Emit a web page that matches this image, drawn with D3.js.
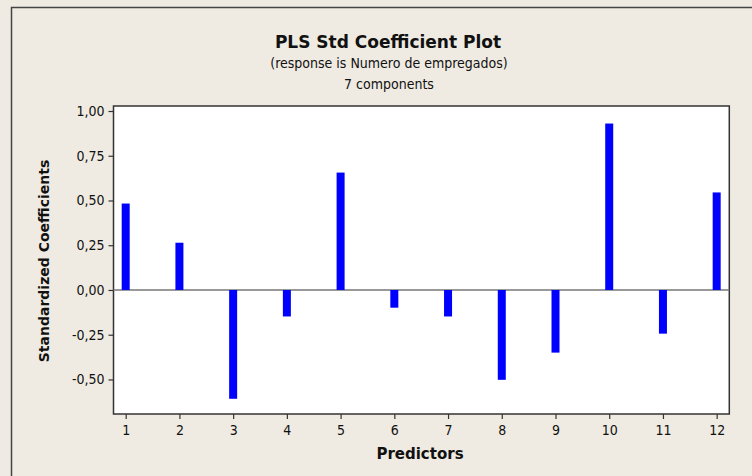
<!DOCTYPE html>
<html>
<head>
<meta charset="utf-8">
<script src="https://cdn.jsdelivr.net/npm/d3@7"></script>
<style>
	body { margin: 0; background: #efebe2; }
	text { font-family: "DejaVu Sans Condensed", "DejaVu Sans", Verdana, sans-serif; fill: #111; }
	.bold-title { font-family: "DejaVu Sans", Verdana, sans-serif; }
</style>
</head>
<body>
<div id="chart"></div>
<script>
// Data
var predictors = [1, 2, 3, 4, 5, 6, 7, 8, 9, 10, 11, 12];
var coefficients = [0.483, 0.264, -0.608, -0.148, 0.656, -0.099, -0.148, -0.502, -0.35, 0.93, -0.244, 0.545];
var yTicks = [-0.5, -0.25, 0, 0.25, 0.5, 0.75, 1];
var titleText = "PLS Std Coefficient Plot";
var subtitleLines = ["(response is Numero de empregados)", "7 components"];

var width = 752,
	height = 476;
var marginTop = 106,
	marginBottom = 62,
	marginLeft = 113.5,
	marginRight = 22.7;

var svg = d3.select("#chart").append("svg").attr("width", width).attr("height", height);

// Background and outer frame
svg.append("rect").attr("width", width).attr("height", height).attr("fill", "#efebe2");
svg
	.append("rect")
	.attr("x", 11.5)
	.attr("y", 7.5)
	.attr("width", width + 10)
	.attr("height", height + 10)
	.attr("fill", "none")
	.attr("stroke", "#444")
	.attr("stroke-width", 1.5);

var ptBR = d3.formatLocale({ decimal: ",", thousands: ".", grouping: [3], currency: ["", ""], minus: "-" });
var fmt = ptBR.format(".2f");

var x = d3
	.scaleLinear()
	.domain([0.773, 12.235])
	.range([marginLeft, width - marginRight]);
var y = d3
	.scaleLinear()
	.domain([-0.693, 1.028])
	.range([height - marginBottom, marginTop]);

// Plot area
svg
	.append("rect")
	.attr("x", marginLeft)
	.attr("y", marginTop)
	.attr("width", width - marginRight - marginLeft)
	.attr("height", height - marginBottom - marginTop)
	.attr("fill", "#fff")
	.attr("stroke", "#333")
	.attr("stroke-width", 1.5);

// Zero reference line
svg
	.append("line")
	.attr("x1", marginLeft)
	.attr("x2", width - marginRight)
	.attr("y1", y(0))
	.attr("y2", y(0))
	.attr("stroke", "#777")
	.attr("stroke-width", 1.5);

// Bars
svg
	.selectAll(".bar")
	.data(predictors)
	.enter()
	.append("rect")
	.attr("class", "bar")
	.attr("x", function (d) {
		return x(d) - 4;
	})
	.attr("width", 8)
	.attr("y", function (d, i) {
		return y(Math.max(0, coefficients[i]));
	})
	.attr("height", function (d, i) {
		return Math.abs(y(coefficients[i]) - y(0));
	})
	.attr("fill", "#0000ff");

// Axes
var yAxis = svg
	.append("g")
	.attr("transform", `translate(${marginLeft}, 0)`)
	.call(d3.axisLeft(y).tickValues(yTicks).tickFormat(fmt).tickSize(5).tickPadding(4));
yAxis.select(".domain").remove();
yAxis.selectAll("line").attr("stroke", "#333").attr("stroke-width", 1.2);
yAxis.selectAll("text").style("font-size", "14px").attr("fill", "#111");

var xAxis = svg
	.append("g")
	.attr("transform", `translate(0, ${height - marginBottom})`)
	.call(d3.axisBottom(x).tickValues(predictors).tickFormat(d3.format("d")).tickSize(5).tickPadding(6));
xAxis.select(".domain").remove();
xAxis.selectAll("line").attr("stroke", "#333").attr("stroke-width", 1.2);
xAxis.selectAll("text").style("font-size", "14px").attr("fill", "#111");

// Titles
svg
	.append("text")
	.attr("class", "bold-title")
	.attr("x", 388)
	.attr("y", 48)
	.attr("text-anchor", "middle")
	.style("font-size", "17px")
	.style("font-weight", "bold")
	.text(titleText);
svg
	.selectAll(".subtitle")
	.data(subtitleLines)
	.enter()
	.append("text")
	.attr("x", 389)
	.attr("y", function (d, i) {
		return 68 + i * 21;
	})
	.attr("text-anchor", "middle")
	.style("font-size", "14px")
	.text(function (d) {
		return d;
	});

svg
	.append("text")
	.attr("class", "bold-title")
	.attr("x", 420)
	.attr("y", 459)
	.attr("text-anchor", "middle")
	.style("font-size", "15px")
	.style("font-weight", "bold")
	.text("Predictors");
svg
	.append("text")
	.attr("class", "bold-title")
	.attr("transform", "translate(49, 261) rotate(-90)")
	.attr("text-anchor", "middle")
	.style("font-size", "14px")
	.style("font-weight", "bold")
	.text("Standardized Coefficients");
</script>
</body>
</html>
